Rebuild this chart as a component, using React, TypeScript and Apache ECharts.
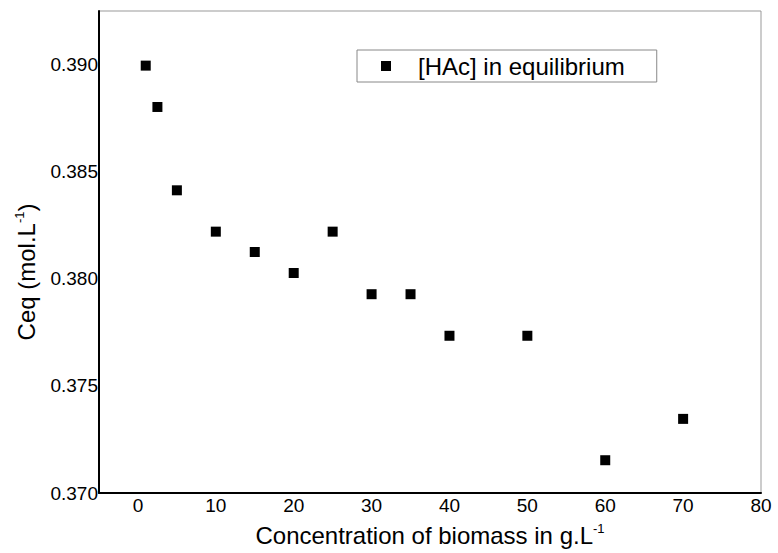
import React, { useEffect, useRef } from "react";
import * as echarts from "echarts";

const biomass = [1, 2.5, 5, 10, 15, 20, 25, 30, 35, 40, 50, 60, 70];
const ceq = [0.38995, 0.38802, 0.38413, 0.3822, 0.38125, 0.38027, 0.3822, 0.37928, 0.37928, 0.37734, 0.37734, 0.37153, 0.37346];
const seriesName = "[HAc] in equilibrium";

export default function App() {
  const ref = useRef<HTMLDivElement>(null);
  useEffect(() => {
    const chart = echarts.init(ref.current!, undefined, { renderer: "svg" });
    const font = "'Liberation Sans', Arial, sans-serif";
    const supStyle = { fontSize: 13, verticalAlign: "top", padding: [0, 0, 14, 0], color: "#000", fontFamily: font };
    chart.setOption({
      animation: false,
      backgroundColor: "#fff",
      textStyle: { fontFamily: font },
      grid: { left: 99, top: 11, right: 17, bottom: 60, show: true, borderColor: "#999", borderWidth: 1 },
      legend: {
        left: 357,
        top: 50,
        data: [{ name: seriesName, icon: "rect" }],
        itemWidth: 10,
        itemHeight: 10,
        borderColor: "#888",
        borderWidth: 1,
        padding: [4, 32, 4, 24],
        textStyle: { fontSize: 24, color: "#000", fontFamily: font, padding: [0, 0, 0, 22] },
      },
      xAxis: {
        type: "value",
        min: -5,
        max: 80,
        interval: 5,
        name: "Concentration of biomass in g.L{sup|-1}",
        nameLocation: "middle",
        nameGap: 29,
        nameTextStyle: { fontSize: 24, color: "#000", fontFamily: font, rich: { sup: supStyle } },
        axisLine: { onZero: false, lineStyle: { color: "#000", width: 2 } },
        axisTick: { show: false },
        splitLine: { show: false },
        axisLabel: {
          fontSize: 19,
          color: "#000",
          margin: 3,
          formatter: (v: number) => (Math.abs(v % 10) < 1e-9 ? String(v) : ""),
        },
      },
      yAxis: {
        type: "value",
        min: 0.37,
        max: 0.3925,
        interval: 0.0025,
        name: "Ceq (mol.L{sup|-1})",
        nameLocation: "middle",
        nameGap: 59,
        nameTextStyle: { fontSize: 24, color: "#000", fontFamily: font, padding: [0, 40, 0, 0], rich: { sup: supStyle } },
        axisLine: { onZero: false, lineStyle: { color: "#000", width: 2 } },
        axisTick: { show: false },
        splitLine: { show: false },
        axisLabel: {
          fontSize: 19,
          color: "#000",
          margin: 1,
          formatter: (v: number) => {
            const m = v * 1000;
            return Math.abs(Math.round(m / 5) * 5 - m) < 1e-6 ? v.toFixed(3) : "";
          },
        },
      },
      series: [
        {
          name: seriesName,
          type: "scatter",
          symbol: "rect",
          symbolSize: 10,
          itemStyle: { color: "#000", opacity: 1 },
          data: biomass.map((x, i) => [x, ceq[i]]),
        },
      ],
    });
    return () => chart.dispose();
  }, []);
  return <div ref={ref} style={{ position: "fixed", left: 0, top: 0, width: 778, height: 553 }} />;
}
